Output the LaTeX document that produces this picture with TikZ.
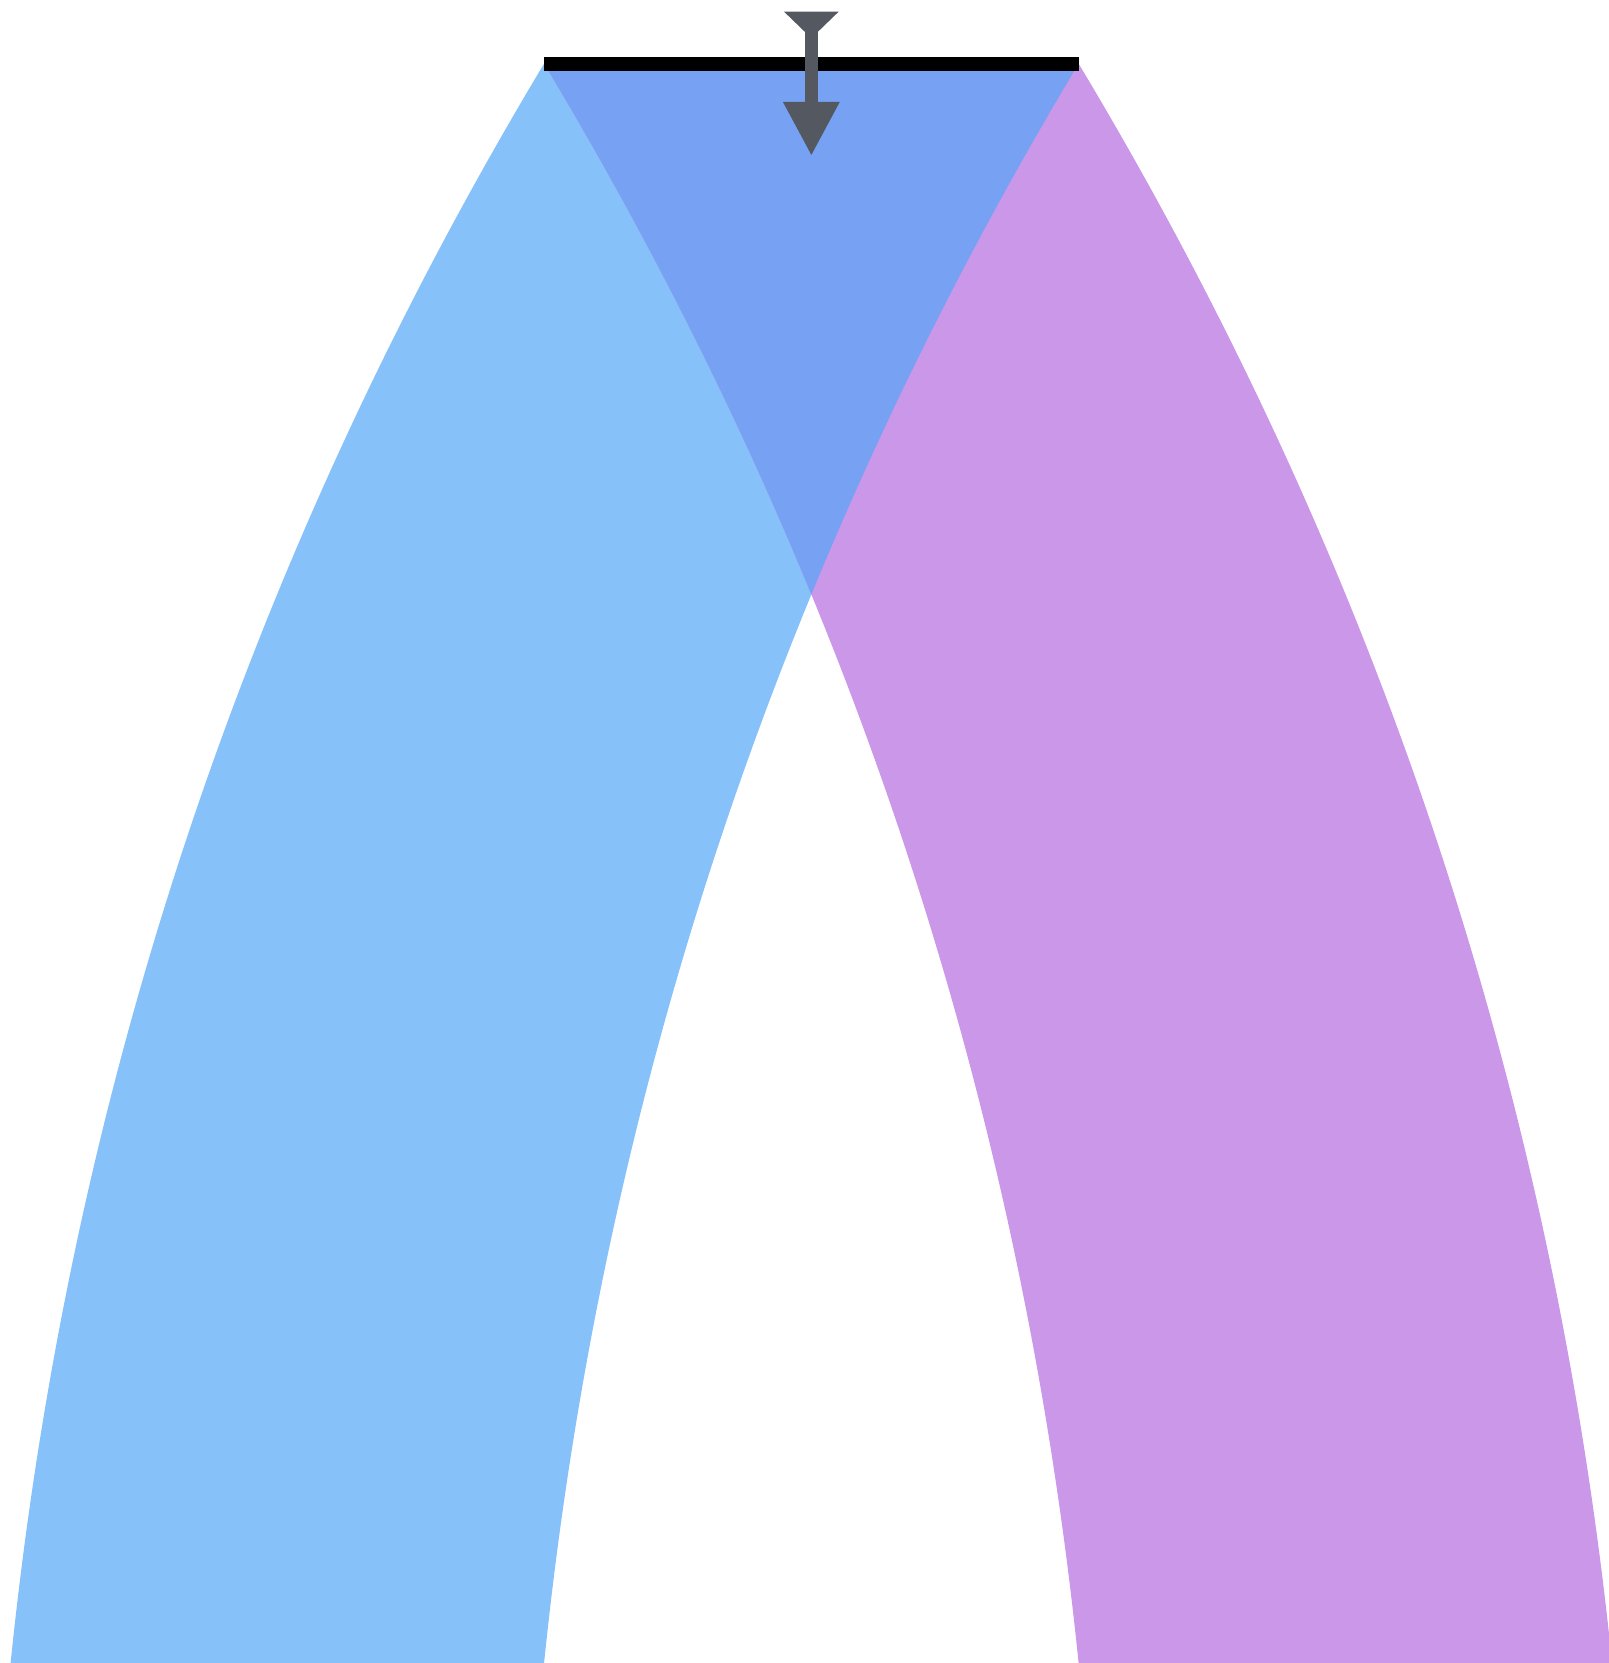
\documentclass[tikz,border=0pt]{standalone}
\usetikzlibrary{arrows.meta, positioning, calc}
\definecolor{mFlowBlue}{HTML}{87C1F9}
\definecolor{mFlowPurple}{HTML}{CB97E9}
\definecolor{mOverlap}{HTML}{77A2F4}
\definecolor{mArrowGray}{HTML}{545861}

\begin{document}
\begin{tikzpicture}[x=0.1mm, y=-0.1mm,
    splitbar/.style={draw=black, line width=1.3mm},
    flowarrow/.style={draw=mArrowGray, line width=1.2mm,
      {Triangle[reversed, length=2.5mm, width=5mm]}-{Triangle[length=5.1mm, width=5mm]}}]
  \useasboundingbox (0,0) rectangle (1517,1568);
  \coordinate (barL) at (513,60);
  \coordinate (barR) at (1017,60);
  \coordinate (blueL) at (10,1568);
  \coordinate (blueR) at (513,1568);
  \coordinate (purpL) at (1017,1568);
  \coordinate (purpR) at (1520,1568);
  \begin{scope}
    \clip (0,0) rectangle (1517,1568);
    % left band
    \fill[mFlowBlue] (barL) .. controls (232,528) and (65,1031) .. (blueL)
      -- (blueR) .. controls (568,1031) and (736,528) .. (barR) -- cycle;
    % right band
    \fill[mFlowPurple] (barL) .. controls (794,528) and (962,1031) .. (purpL)
      -- (purpR) .. controls (1465,1031) and (1298,528) .. (barR) -- cycle;
    % where both overlap
    \clip (barL) .. controls (232,528) and (65,1031) .. (blueL)
      -- (blueR) .. controls (568,1031) and (736,528) .. (barR) -- cycle;
    \fill[mOverlap] (barL) .. controls (794,528) and (962,1031) .. (purpL)
      -- (purpR) .. controls (1465,1031) and (1298,528) .. (barR) -- cycle;
  \end{scope}
  \draw[splitbar] (barL) -- (barR);
  \coordinate (src) at (765,11);
  \coordinate (dst) at (765,147);
  \draw[flowarrow] (src) -- (dst);
\end{tikzpicture}
\end{document}
